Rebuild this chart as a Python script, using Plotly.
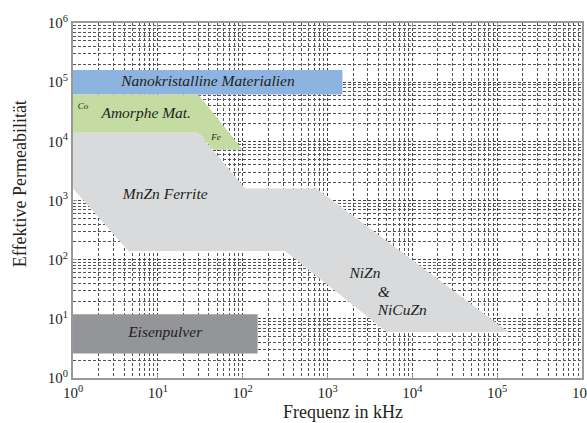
import plotly.graph_objects as go

# Regions (frequency in kHz, effective permeability)
nano_f = [1, 1500, 1500, 1]
nano_mu = [6.2e4, 6.2e4, 1.6e5, 1.6e5]

amorph_f = [1, 30, 100, 45, 30, 1]
amorph_mu = [6.2e4, 6.2e4, 7.2e3, 7.2e3, 1.4e4, 1.4e4]

ferrite_f = [1, 30, 107, 740, 1.36e5, 5.0e3, 316, 4.5, 1]
ferrite_mu = [1.4e4, 1.4e4, 1.6e3, 1.6e3, 6.0, 6.0, 140, 140, 1.6e3]

eisen_f = [1, 150, 150, 1]
eisen_mu = [2.6, 2.6, 12, 12]

labels = ["Nanokristalline Materialien", "Co", "Amorphe Mat.", "Fe", "MnZn Ferrite",
          "NiZn", "&", "NiCuZn", "Eisenpulver"]
label_f = [39, 1.31, 7.3, 48.5, 12.2, 2.76e3, 4.6e3, 7.6e3, 12.2]
label_mu = [1.0e5, 3.9e4, 2.85e4, 1.16e4, 1.22e3, 58, 27, 13.4, 5.7]
label_size = [15.5, 9, 15.5, 9, 15.5, 15.5, 15.5, 15.5, 15.5]

tick_vals = [1, 10, 100, 1e3, 1e4, 1e5, 1e6]
tick_text = ["10<sup>%d</sup>" % i for i in range(7)]

x_title = "Frequenz in kHz"
y_title = "Effektive Permeabilität"

SERIF = "Liberation Serif, Times New Roman, serif"
TXT = "#231f20"

fig = go.Figure()

def region(fx, fy, color):
    fig.add_trace(go.Scatter(x=fx, y=fy, mode="lines", fill="toself",
                             fillcolor=color, line=dict(width=0, color=color),
                             hoverinfo="skip", showlegend=False))

region(nano_f, nano_mu, "#8db3e1")
region(amorph_f, amorph_mu, "#c4dca2")
region(ferrite_f, ferrite_mu, "#d9dadb")
region(eisen_f, eisen_mu, "#939598")

fig.add_trace(go.Scatter(
    x=label_f, y=label_mu, mode="text", text=labels,
    textfont=dict(family=SERIF, size=label_size, color=TXT, style="italic"),
    hoverinfo="skip", showlegend=False))

axis_common = dict(
    type="log",
    showgrid=True, gridcolor="#444444", gridwidth=1, griddash="3px,2px",
    minor=dict(showgrid=True, gridcolor="#555555", gridwidth=1, griddash="3px,2px",
               dtick="D1", ticks=""),
    showline=True, linecolor="#999999", linewidth=2, mirror="ticks",
    ticks="inside", ticklen=4, tickcolor="#999999",
    tickvals=tick_vals, ticktext=tick_text,
    tickfont=dict(family=SERIF, size=15, color=TXT),
    zeroline=False,
    layer="below traces",
    ticklabeloverflow="allow",
)

fig.update_xaxes(**axis_common, range=[0, 6])
fig.update_yaxes(**axis_common, range=[0, 6])

fig.add_annotation(text=x_title, xref="paper", yref="paper", x=0.53, y=-0.095,
                   xanchor="center", yanchor="middle", showarrow=False,
                   font=dict(family=SERIF, size=18, color=TXT))
fig.add_annotation(text=y_title, xref="paper", yref="paper", x=-0.104, y=0.546,
                   xanchor="center", yanchor="middle", showarrow=False, textangle=-90,
                   font=dict(family=SERIF, size=18, color=TXT))

fig.update_layout(
    width=587, height=423,
    margin=dict(l=73, r=5, t=23, b=45, autoexpand=False),
    paper_bgcolor="white", plot_bgcolor="white",
)

fig.write_html("out.html", config={"displayModeBar": False})

with open("out.html", "r", encoding="utf-8") as fh:
    html = fh.read()
html = html.replace("<head>", "<head><style>html,body{margin:0;padding:0;overflow:hidden;}</style>", 1)
with open("out.html", "w", encoding="utf-8") as fh:
    fh.write(html)
